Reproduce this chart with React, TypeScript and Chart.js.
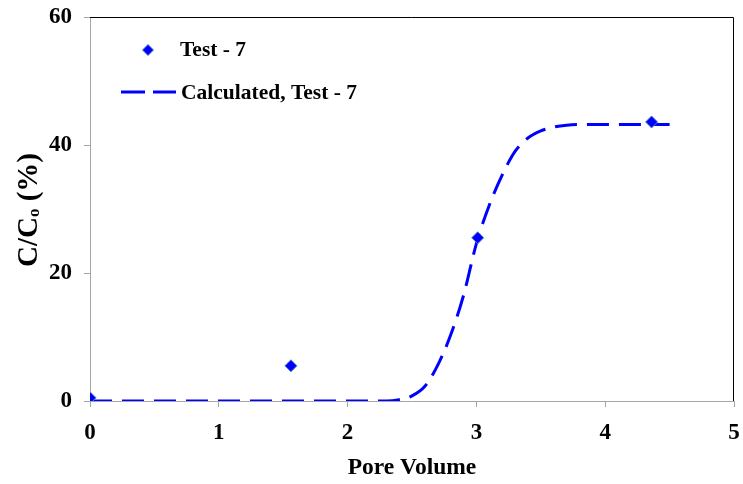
import React, { useEffect, useRef } from "react";
import { Chart, registerables } from "chart.js";

Chart.register(...registerables);

const testX = [0, 1.56, 3.01, 4.36];
const testY = [0.5, 5.5, 25.5, 43.6];

const calcX = [0, 0.5, 1.0, 1.5, 2.0, 2.3, 2.4, 2.5, 2.6, 2.7, 2.8, 2.9, 3.0, 3.1, 3.2, 3.3, 3.4, 3.5, 3.6, 3.7, 3.8, 3.9, 4.0, 4.2, 4.5];
const calcY = [0, 0, 0, 0, 0, 0, 0.2, 0.8, 2.3, 5.6, 10.3, 16.5, 24.6, 30.6, 35.3, 39.0, 41.1, 42.2, 42.8, 43.1, 43.2, 43.2, 43.2, 43.2, 43.2];

const xTicks = [0, 1, 2, 3, 4, 5];
const yTicks = [0, 20, 40, 60];

const legendLabels = ["Test - 7", "Calculated, Test - 7"];
const yTitleParts = ["C/C", "o", " (%)"];
const xTitle = "Pore Volume";

const FONT = "'Liberation Serif', 'Times New Roman', serif";

export default function App() {
  const ref = useRef<HTMLCanvasElement | null>(null);

  useEffect(() => {
    const canvas = ref.current;
    if (!canvas) return;

    const overlay = {
      id: "overlay",
      afterDraw(chart: any) {
        const ctx = chart.ctx;
        const a = chart.chartArea;
        ctx.save();
        ctx.strokeStyle = "#000";
        ctx.lineWidth = 1;
        ctx.beginPath();
        ctx.moveTo(a.left, a.top + 0.5);
        ctx.lineTo(a.right - 0.5, a.top + 0.5);
        ctx.lineTo(a.right - 0.5, a.bottom);
        ctx.stroke();

        ctx.font = `bold 21.5px ${FONT}`;
        ctx.fillStyle = "#000";
        ctx.textBaseline = "middle";
        ctx.textAlign = "left";
        const dx = 148, dy = 50, r = 5.5;
        ctx.beginPath();
        ctx.moveTo(dx, dy - r);
        ctx.lineTo(dx + r, dy);
        ctx.lineTo(dx, dy + r);
        ctx.lineTo(dx - r, dy);
        ctx.closePath();
        ctx.fillStyle = "#0000ff";
        ctx.fill();
        ctx.strokeStyle = "#4f81bd";
        ctx.stroke();
        ctx.fillStyle = "#000";
        ctx.fillText(legendLabels[0], 180, 50);
        ctx.strokeStyle = "#0000ff";
        ctx.lineWidth = 3;
        ctx.beginPath();
        ctx.moveTo(121, 92);
        ctx.lineTo(145, 92);
        ctx.moveTo(153, 92);
        ctx.lineTo(176, 92);
        ctx.stroke();
        ctx.fillText(legendLabels[1], 181, 93);

        ctx.translate(28, 210);
        ctx.rotate(-Math.PI / 2);
        const big = `bold 29px ${FONT}`;
        const small = `bold 17px ${FONT}`;
        ctx.font = big;
        const w0 = ctx.measureText(yTitleParts[0]).width;
        ctx.font = small;
        const w1 = ctx.measureText(yTitleParts[1]).width;
        ctx.font = big;
        const w2 = ctx.measureText(yTitleParts[2]).width;
        const total = w0 + w1 + w2;
        let x = -total / 2;
        ctx.textBaseline = "alphabetic";
        ctx.fillText(yTitleParts[0], x, 9);
        x += w0;
        ctx.font = small;
        ctx.fillText(yTitleParts[1], x, 11);
        x += w1;
        ctx.font = big;
        ctx.fillText(yTitleParts[2], x, 9);
        ctx.restore();
      },
    };

    const chart = new Chart(canvas, {
      type: "scatter",
      data: {
        datasets: [
          {
            label: legendLabels[1],
            data: calcX.map((x, i) => ({ x, y: calcY[i] })),
            showLine: true,
            borderColor: "#0000ff",
            borderWidth: 3,
            borderDash: [22, 10],
            pointRadius: 0,
            cubicInterpolationMode: "monotone",
            order: 2,
          } as any,
          {
            label: legendLabels[0],
            data: testX.map((x, i) => ({ x, y: testY[i] })),
            pointStyle: "rectRot",
            pointRadius: 6,
            backgroundColor: "#0000ff",
            borderColor: "#4f81bd",
            borderWidth: 1,
            showLine: false,
            order: 1,
          } as any,
        ],
      },
      options: {
        responsive: false,
        animation: false,
        layout: { padding: { left: 0, top: 17, right: 9, bottom: 0 } },
        plugins: { legend: { display: false }, tooltip: { enabled: false } },
        scales: {
          x: {
            type: "linear",
            min: 0,
            max: 5,
            afterBuildTicks: (s: any) => {
              s.ticks = xTicks.map((v) => ({ value: v }));
            },
            afterFit: (s: any) => {
              s.height = 83;
              s.paddingLeft = 0;
              s.paddingRight = 0;
            },
            ticks: {
              color: "#000",
              font: { family: FONT, size: 23, weight: "bold" },
              padding: 12,
              maxRotation: 0,
            },
            grid: { drawOnChartArea: false, tickLength: 6, color: "#a6a6a6" },
            border: { color: "#a6a6a6", width: 1 },
            title: {
              display: true,
              text: xTitle,
              color: "#000",
              font: { family: FONT, size: 23.5, weight: "bold" },
              padding: { top: 0, bottom: 2 },
            },
          },
          y: {
            type: "linear",
            min: 0,
            max: 60,
            afterBuildTicks: (s: any) => {
              s.ticks = yTicks.map((v) => ({ value: v }));
            },
            afterFit: (s: any) => {
              s.width = 90;
              s.paddingTop = 0;
              s.paddingBottom = 0;
            },
            ticks: {
              color: "#000",
              font: { family: FONT, size: 23, weight: "bold" },
              padding: 12,
            },
            grid: { drawOnChartArea: false, tickLength: 6, color: "#a6a6a6" },
            border: { color: "#a6a6a6", width: 1 },
          },
        },
      } as any,
      plugins: [overlay],
    });

    return () => chart.destroy();
  }, []);

  return (
    <div style={{ position: "fixed", left: 0, top: 0, width: 743, height: 484, background: "#fff" }}>
      <canvas ref={ref} width={743} height={484} style={{ display: "block" }} />
    </div>
  );
}
